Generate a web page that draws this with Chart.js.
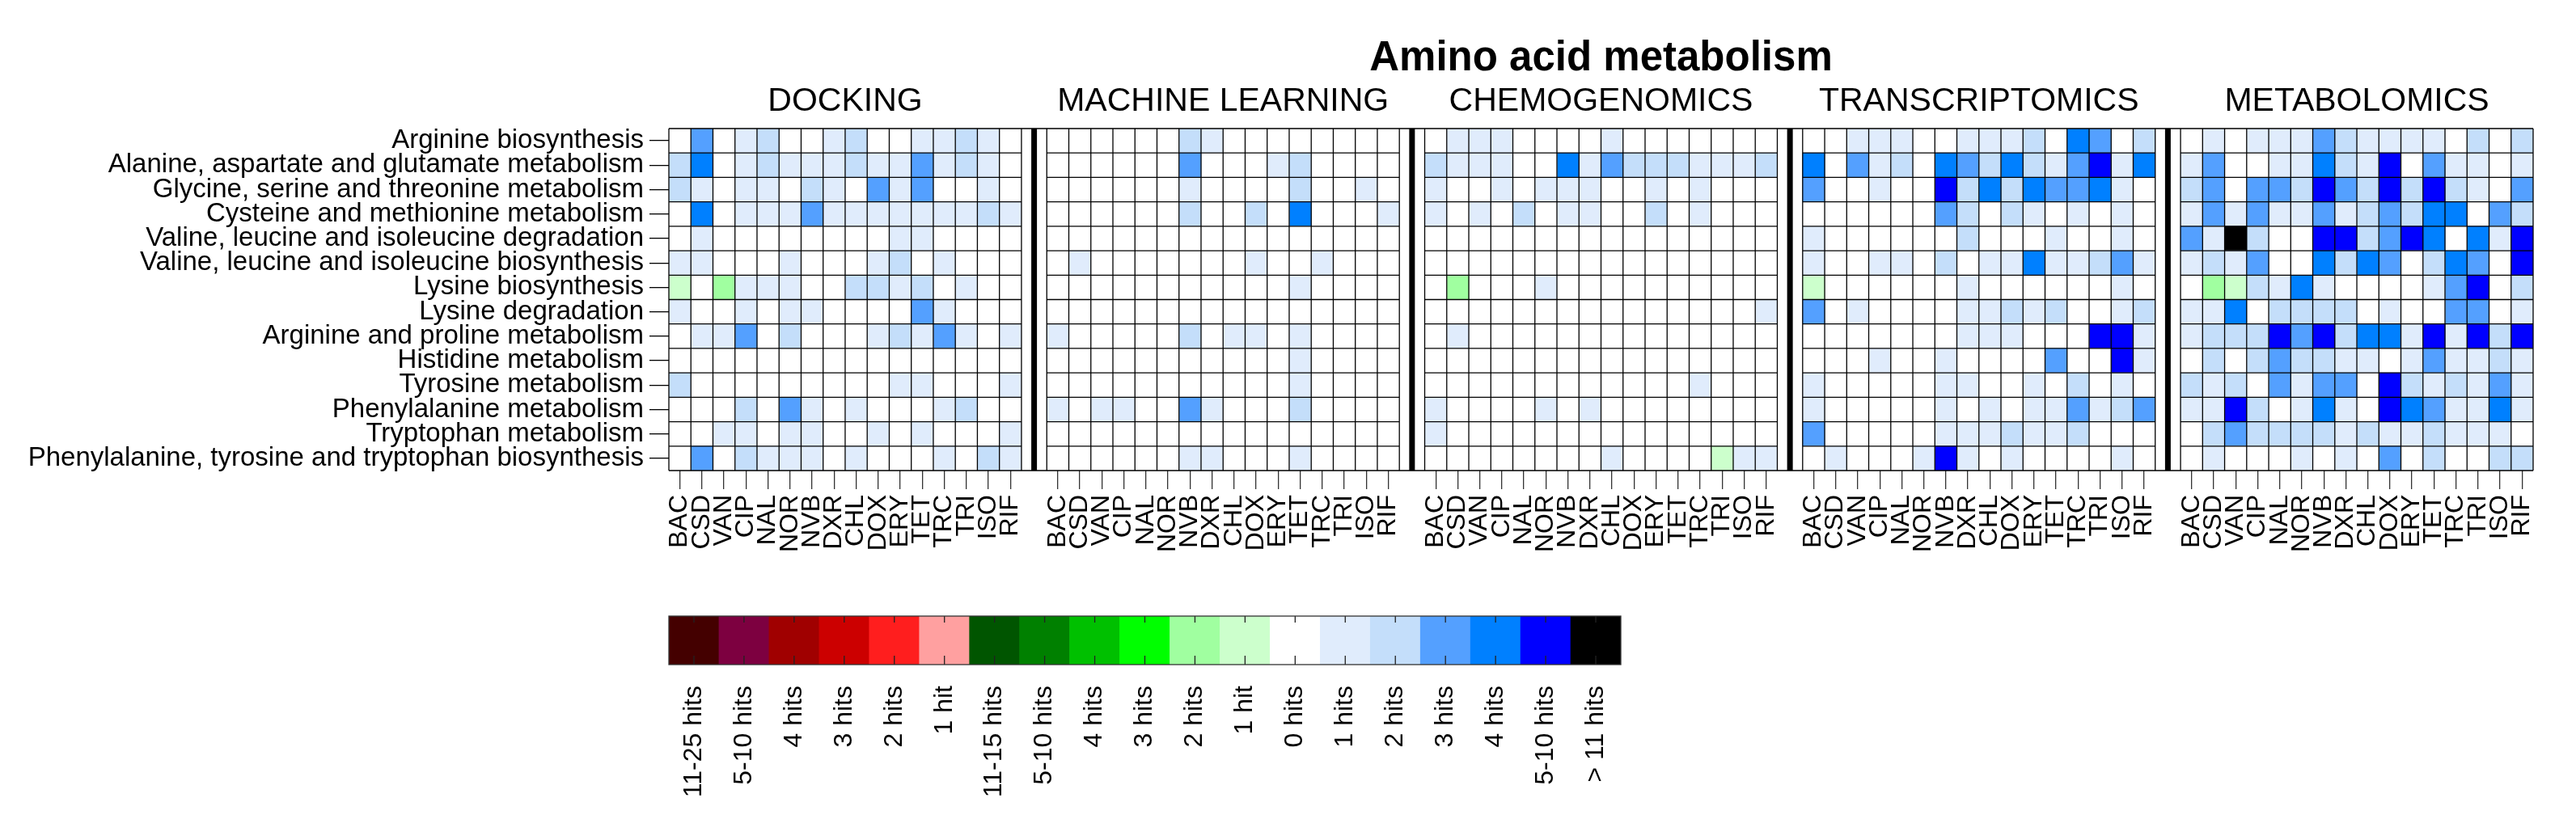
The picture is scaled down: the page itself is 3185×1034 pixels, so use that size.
<!DOCTYPE html>
<html>
<head>
<meta charset="utf-8">
<script src="https://cdn.jsdelivr.net/npm/chart.js@4.4.1/dist/chart.umd.min.js"></script>
<style>
  body { margin: 0; background: #fff; }
  #wrap { position: relative; width: 3185px; height: 1034px; }
  canvas { position: absolute; left: 0; top: 0; }
</style>
</head>
<body>
<div id="wrap">
  <canvas id="heatmap" width="3185" height="1034"></canvas>
  <canvas id="colorKey" width="3185" height="1034"></canvas>
</div>
<script>
const pathways = [
  'Arginine biosynthesis',
  'Alanine, aspartate and glutamate metabolism',
  'Glycine, serine and threonine metabolism',
  'Cysteine and methionine metabolism',
  'Valine, leucine and isoleucine degradation',
  'Valine, leucine and isoleucine biosynthesis',
  'Lysine biosynthesis',
  'Lysine degradation',
  'Arginine and proline metabolism',
  'Histidine metabolism',
  'Tyrosine metabolism',
  'Phenylalanine metabolism',
  'Tryptophan metabolism',
  'Phenylalanine, tyrosine and tryptophan biosynthesis'
];
const drugs = ['BAC', 'CSD', 'VAN', 'CIP', 'NAL', 'NOR', 'NVB', 'DXR', 'CHL', 'DOX', 'ERY', 'TET', 'TRC', 'TRI', 'ISO', 'RIF'];
const panels = ['DOCKING', 'MACHINE LEARNING', 'CHEMOGENOMICS', 'TRANSCRIPTOMICS', 'METABOLOMICS'];

// hit codes: 0 = 0 hits, 1..4 = 1..4 hits, 5 = 5-10 hits, 6 = >11 hits (blue scale)
// -1 / -2 = 1 / 2 hits on the green scale
const docking = [
  [0, 3, 0, 1, 2, 0, 0, 1, 2, 0, 0, 1, 1, 2, 1, 0],
  [2, 4, 0, 1, 2, 1, 1, 1, 2, 1, 1, 3, 1, 2, 1, 0],
  [2, 1, 0, 1, 1, 0, 2, 1, 0, 3, 1, 3, 0, 0, 1, 0],
  [0, 4, 0, 1, 1, 1, 3, 1, 1, 1, 1, 1, 1, 1, 2, 1],
  [0, 1, 0, 0, 0, 0, 0, 0, 0, 0, 1, 1, 0, 0, 0, 0],
  [1, 1, 0, 0, 0, 1, 0, 0, 0, 1, 2, 0, 1, 0, 0, 0],
  [-1, 0, -2, 1, 1, 1, 0, 0, 2, 2, 1, 2, 0, 1, 0, 0],
  [1, 0, 0, 1, 0, 1, 1, 0, 0, 0, 0, 3, 1, 0, 0, 0],
  [0, 1, 1, 3, 0, 2, 0, 0, 0, 1, 2, 1, 3, 1, 0, 1],
  [0, 0, 0, 0, 0, 0, 0, 0, 0, 0, 0, 0, 0, 0, 0, 0],
  [2, 0, 0, 0, 0, 0, 0, 0, 0, 0, 1, 1, 0, 0, 0, 1],
  [0, 0, 0, 2, 0, 3, 1, 0, 1, 0, 0, 0, 1, 2, 0, 0],
  [0, 0, 1, 1, 0, 1, 1, 0, 0, 1, 0, 1, 0, 0, 0, 1],
  [0, 3, 0, 2, 1, 1, 1, 0, 1, 0, 0, 0, 1, 0, 2, 1]
];
const machineLearning = [
  [0, 0, 0, 0, 0, 0, 2, 1, 0, 0, 0, 0, 0, 0, 0, 0],
  [0, 0, 0, 0, 0, 0, 3, 0, 0, 0, 1, 2, 0, 0, 0, 0],
  [0, 0, 0, 0, 0, 0, 1, 0, 0, 0, 0, 2, 0, 0, 1, 0],
  [0, 0, 0, 0, 0, 0, 2, 0, 0, 2, 0, 4, 0, 0, 0, 1],
  [0, 0, 0, 0, 0, 0, 0, 0, 0, 0, 0, 0, 0, 0, 0, 0],
  [0, 1, 0, 0, 0, 0, 0, 0, 0, 1, 0, 0, 1, 0, 0, 0],
  [0, 0, 0, 0, 0, 0, 0, 0, 0, 0, 0, 1, 0, 0, 0, 0],
  [0, 0, 0, 0, 0, 0, 0, 0, 0, 0, 0, 0, 0, 0, 0, 0],
  [1, 0, 0, 0, 0, 0, 2, 0, 1, 1, 0, 1, 0, 0, 0, 0],
  [0, 0, 0, 0, 0, 0, 0, 0, 0, 0, 0, 1, 0, 0, 0, 0],
  [0, 0, 0, 0, 0, 0, 0, 0, 0, 0, 0, 1, 0, 0, 0, 0],
  [1, 0, 1, 1, 0, 0, 3, 1, 0, 0, 0, 2, 0, 0, 0, 0],
  [0, 0, 0, 0, 0, 0, 0, 0, 0, 0, 0, 0, 0, 0, 0, 0],
  [0, 0, 0, 0, 0, 0, 1, 1, 0, 0, 0, 1, 0, 0, 0, 0]
];
const chemogenomics = [
  [0, 1, 1, 1, 0, 0, 0, 0, 1, 0, 0, 0, 0, 0, 0, 0],
  [2, 1, 1, 1, 0, 0, 4, 1, 3, 2, 2, 2, 1, 1, 1, 2],
  [1, 0, 0, 1, 0, 1, 1, 1, 0, 0, 1, 0, 1, 0, 0, 0],
  [1, 0, 1, 0, 2, 0, 1, 1, 0, 0, 2, 0, 1, 0, 0, 0],
  [0, 0, 0, 0, 0, 0, 0, 0, 0, 0, 0, 0, 0, 0, 0, 0],
  [0, 0, 0, 0, 0, 0, 0, 0, 0, 0, 0, 0, 0, 0, 0, 0],
  [0, -2, 0, 0, 0, 1, 0, 0, 0, 0, 0, 0, 0, 0, 0, 0],
  [0, 0, 0, 0, 0, 0, 0, 0, 0, 0, 0, 0, 0, 0, 0, 1],
  [0, 1, 0, 0, 0, 0, 0, 0, 0, 0, 0, 0, 0, 0, 0, 0],
  [0, 0, 0, 0, 0, 0, 0, 0, 0, 0, 0, 0, 0, 0, 0, 0],
  [0, 0, 0, 0, 0, 0, 0, 0, 0, 0, 0, 0, 1, 0, 0, 0],
  [1, 0, 0, 0, 0, 1, 0, 1, 0, 0, 0, 0, 0, 0, 0, 0],
  [1, 0, 0, 0, 0, 0, 0, 0, 0, 0, 0, 0, 0, 0, 0, 0],
  [0, 0, 0, 0, 0, 0, 0, 0, 1, 0, 0, 0, 0, -1, 1, 1]
];
const transcriptomics = [
  [0, 0, 1, 1, 1, 0, 0, 1, 1, 1, 2, 0, 4, 3, 0, 2],
  [4, 0, 3, 1, 2, 0, 4, 3, 2, 4, 2, 1, 3, 5, 1, 4],
  [3, 0, 0, 1, 0, 0, 5, 2, 4, 2, 4, 3, 3, 4, 1, 0],
  [0, 0, 0, 0, 0, 0, 3, 2, 0, 2, 1, 0, 1, 0, 1, 0],
  [1, 0, 0, 0, 0, 0, 0, 2, 0, 0, 0, 1, 0, 0, 1, 0],
  [1, 0, 0, 1, 1, 0, 2, 0, 1, 1, 4, 1, 1, 2, 3, 1],
  [-1, 0, 0, 0, 0, 0, 0, 1, 0, 0, 0, 0, 0, 0, 1, 0],
  [3, 0, 1, 0, 0, 0, 0, 1, 1, 2, 1, 2, 0, 0, 1, 2],
  [0, 0, 0, 0, 0, 0, 0, 1, 1, 1, 0, 0, 0, 5, 5, 1],
  [0, 0, 0, 1, 0, 0, 1, 0, 0, 0, 0, 3, 0, 0, 5, 1],
  [1, 0, 0, 0, 0, 0, 1, 1, 0, 0, 1, 0, 2, 0, 1, 0],
  [1, 0, 0, 0, 0, 0, 1, 0, 1, 0, 1, 1, 3, 1, 2, 3],
  [3, 0, 0, 0, 0, 0, 1, 1, 1, 2, 1, 1, 2, 0, 0, 0],
  [0, 1, 0, 0, 0, 1, 5, 1, 0, 1, 0, 0, 0, 0, 1, 0]
];
const metabolomics = [
  [0, 1, 0, 1, 1, 1, 3, 2, 1, 1, 1, 1, 0, 2, 0, 2],
  [1, 3, 0, 0, 1, 1, 4, 2, 1, 5, 0, 3, 1, 1, 0, 1],
  [2, 3, 0, 3, 3, 2, 5, 3, 2, 5, 2, 5, 2, 1, 0, 3],
  [1, 3, 1, 3, 1, 1, 3, 1, 2, 3, 2, 4, 4, 0, 3, 2],
  [3, 1, 6, 2, 0, 0, 5, 5, 2, 3, 5, 4, 0, 4, 1, 5],
  [1, 2, 1, 3, 0, 0, 4, 2, 4, 3, 0, 2, 4, 3, 0, 5],
  [0, -2, -1, 2, 1, 4, 1, 0, 0, 0, 0, 1, 3, 5, 0, 2],
  [1, 1, 4, 0, 2, 2, 2, 2, 0, 1, 0, 0, 3, 3, 0, 1],
  [1, 2, 2, 2, 5, 3, 5, 2, 4, 4, 1, 5, 1, 5, 2, 5],
  [0, 2, 0, 2, 3, 2, 2, 1, 1, 0, 1, 3, 1, 1, 2, 1],
  [2, 1, 2, 0, 3, 1, 3, 3, 0, 5, 2, 1, 2, 1, 3, 1],
  [1, 1, 5, 2, 0, 1, 4, 1, 0, 5, 4, 3, 1, 1, 4, 1],
  [0, 2, 3, 2, 2, 2, 2, 1, 2, 1, 1, 2, 1, 1, 1, 0],
  [0, 1, 0, 0, 0, 1, 0, 1, 0, 3, 0, 2, 0, 0, 2, 2]
];
const panelData = [docking, machineLearning, chemogenomics, transcriptomics, metabolomics];

const keyLabels = ['11-25 hits', '5-10 hits', '4 hits', '3 hits', '2 hits', '1 hit',
  '11-15 hits', '5-10 hits', '4 hits', '3 hits', '2 hits', '1 hit',
  '0 hits', '1 hits', '2 hits', '3 hits', '4 hits', '5-10 hits', '> 11 hits'];
const keyColors = ['#440000', '#7D0040', '#A00000', '#CC0000', '#FF1E1E', '#FFA0A0',
  '#005500', '#008000', '#00C000', '#00FF00', '#A0FFA0', '#CCFFCC',
  '#FFFFFF', '#E0ECFC', '#C4DEFA', '#54A0FF', '#0080FF', '#0000FF', '#000000'];

const ZERO = keyLabels.indexOf('0 hits');
const GAP = 1.15;                       // separator strip between panels, in columns
const PERIOD = drugs.length + GAP;
const FONT = "'Liberation Sans', Arial, sans-serif";
Chart.defaults.font.family = FONT;
Chart.defaults.color = '#000';

function hitColor(code) {
  return keyColors[ZERO + code];
}

// one floating-bar dataset per panel column, one bar per pathway row
const datasets = [];
panelData.forEach((rows, p) => {
  drugs.forEach((drug, j) => {
    const start = p * PERIOD + j;
    datasets.push({
      label: panels[p] + ' ' + drug,
      data: rows.map(() => [start, start + 1]),
      backgroundColor: rows.map(r => hitColor(r[j])),
      borderWidth: 0,
      barPercentage: 1,
      categoryPercentage: 1,
      grouped: false
    });
  });
});

const tickValues = [];
panels.forEach((_, p) => drugs.forEach((_, j) => tickValues.push(p * PERIOD + j + 0.5)));

const gridAndTitles = {
  id: 'gridAndTitles',
  afterDatasetsDraw(chart) {
    const { ctx, chartArea: a, scales: { x, y } } = chart;
    ctx.save();
    ctx.strokeStyle = '#000';
    ctx.lineWidth = 1.3;
    ctx.beginPath();
    panels.forEach((_, p) => {
      const left = x.getPixelForValue(p * PERIOD);
      const right = x.getPixelForValue(p * PERIOD + drugs.length);
      for (let j = 0; j <= drugs.length; j++) {
        const px = x.getPixelForValue(p * PERIOD + j);
        ctx.moveTo(px, a.top);
        ctx.lineTo(px, a.bottom);
      }
      for (let i = 1; i < pathways.length; i++) {
        const py = y.getPixelForValue(i - 0.5);
        ctx.moveTo(left, py);
        ctx.lineTo(right, py);
      }
    });
    ctx.moveTo(a.left, a.top);
    ctx.lineTo(a.right, a.top);
    ctx.moveTo(a.left, a.bottom);
    ctx.lineTo(a.right, a.bottom);
    ctx.stroke();

    // thick separators between panels
    ctx.lineWidth = 7;
    ctx.beginPath();
    for (let p = 0; p < panels.length - 1; p++) {
      const px = x.getPixelForValue(p * PERIOD + drugs.length + GAP / 2);
      ctx.moveTo(px, a.top);
      ctx.lineTo(px, a.bottom);
    }
    ctx.stroke();

    // title and panel headers
    ctx.fillStyle = '#000';
    ctx.textAlign = 'center';
    ctx.textBaseline = 'alphabetic';
    ctx.font = 'bold 51px ' + FONT;
    ctx.fillText('Amino acid metabolism', (a.left + a.right) / 2, a.top - 72);
    ctx.font = '41px ' + FONT;
    panels.forEach((name, p) => {
      const cx = x.getPixelForValue(p * PERIOD + drugs.length / 2);
      ctx.fillText(name, cx, a.top - 22);
    });
    ctx.restore();
  }
};

new Chart(document.getElementById('heatmap'), {
  type: 'bar',
  data: { labels: pathways, datasets: datasets },
  options: {
    indexAxis: 'y',
    responsive: false,
    animation: false,
    layout: { padding: { top: 159, right: 53, left: 0, bottom: 0 } },
    plugins: { legend: { display: false }, tooltip: { enabled: false } },
    scales: {
      x: {
        type: 'linear',
        min: 0,
        max: panels.length * PERIOD - GAP,
        afterBuildTicks: s => { s.ticks = tickValues.map(v => ({ value: v })); },
        afterFit: s => { s.height = 1034 - 582; },
        ticks: {
          autoSkip: false,
          minRotation: 90,
          maxRotation: 90,
          padding: 7,
          color: '#000',
          font: { size: 32 },
          callback: (v, i) => drugs[i % drugs.length]
        },
        grid: { drawOnChartArea: false, drawTicks: true, tickLength: 23, color: '#333', lineWidth: 1.3 },
        border: { display: false }
      },
      y: {
        type: 'category',
        afterFit: s => { s.width = 827; },
        ticks: { autoSkip: false, padding: 7, color: '#000', font: { size: 33 } },
        grid: { offset: false, drawOnChartArea: false, drawTicks: true, tickLength: 24, color: '#000', lineWidth: 1.3 },
        border: { display: false }
      }
    }
  },
  plugins: [gridAndTitles]
});

// colour key below the heatmap
const keyFrame = {
  id: 'keyFrame',
  afterDatasetsDraw(chart) {
    const { ctx, chartArea: a, scales: { x } } = chart;
    ctx.save();
    ctx.strokeStyle = '#222';
    ctx.lineWidth = 1.3;
    ctx.beginPath();
    keyLabels.forEach((_, i) => {
      const px = x.getPixelForTick(i);
      ctx.moveTo(px, a.top);
      ctx.lineTo(px, a.top + 8);
      ctx.moveTo(px, a.bottom - 11);
      ctx.lineTo(px, a.bottom);
    });
    ctx.stroke();
    ctx.strokeStyle = '#333';
    ctx.strokeRect(a.left, a.top, a.right - a.left, a.bottom - a.top);
    ctx.restore();
  }
};

new Chart(document.getElementById('colorKey'), {
  type: 'bar',
  data: {
    labels: keyLabels,
    datasets: [{
      data: keyLabels.map(() => 1),
      backgroundColor: keyColors,
      borderWidth: 0,
      barPercentage: 1,
      categoryPercentage: 1
    }]
  },
  options: {
    responsive: false,
    animation: false,
    layout: { padding: { left: 827, right: 3185 - 2004, top: 762, bottom: 0 } },
    plugins: { legend: { display: false }, tooltip: { enabled: false } },
    scales: {
      x: {
        afterFit: s => { s.height = 1034 - 822; },
        grid: { drawOnChartArea: false, drawTicks: false },
        border: { display: false },
        ticks: { autoSkip: false, minRotation: 90, maxRotation: 90, padding: 26, color: '#000', font: { size: 32 } }
      },
      y: { display: false, min: 0, max: 1 }
    }
  },
  plugins: [keyFrame]
});
</script>
</body>
</html>
